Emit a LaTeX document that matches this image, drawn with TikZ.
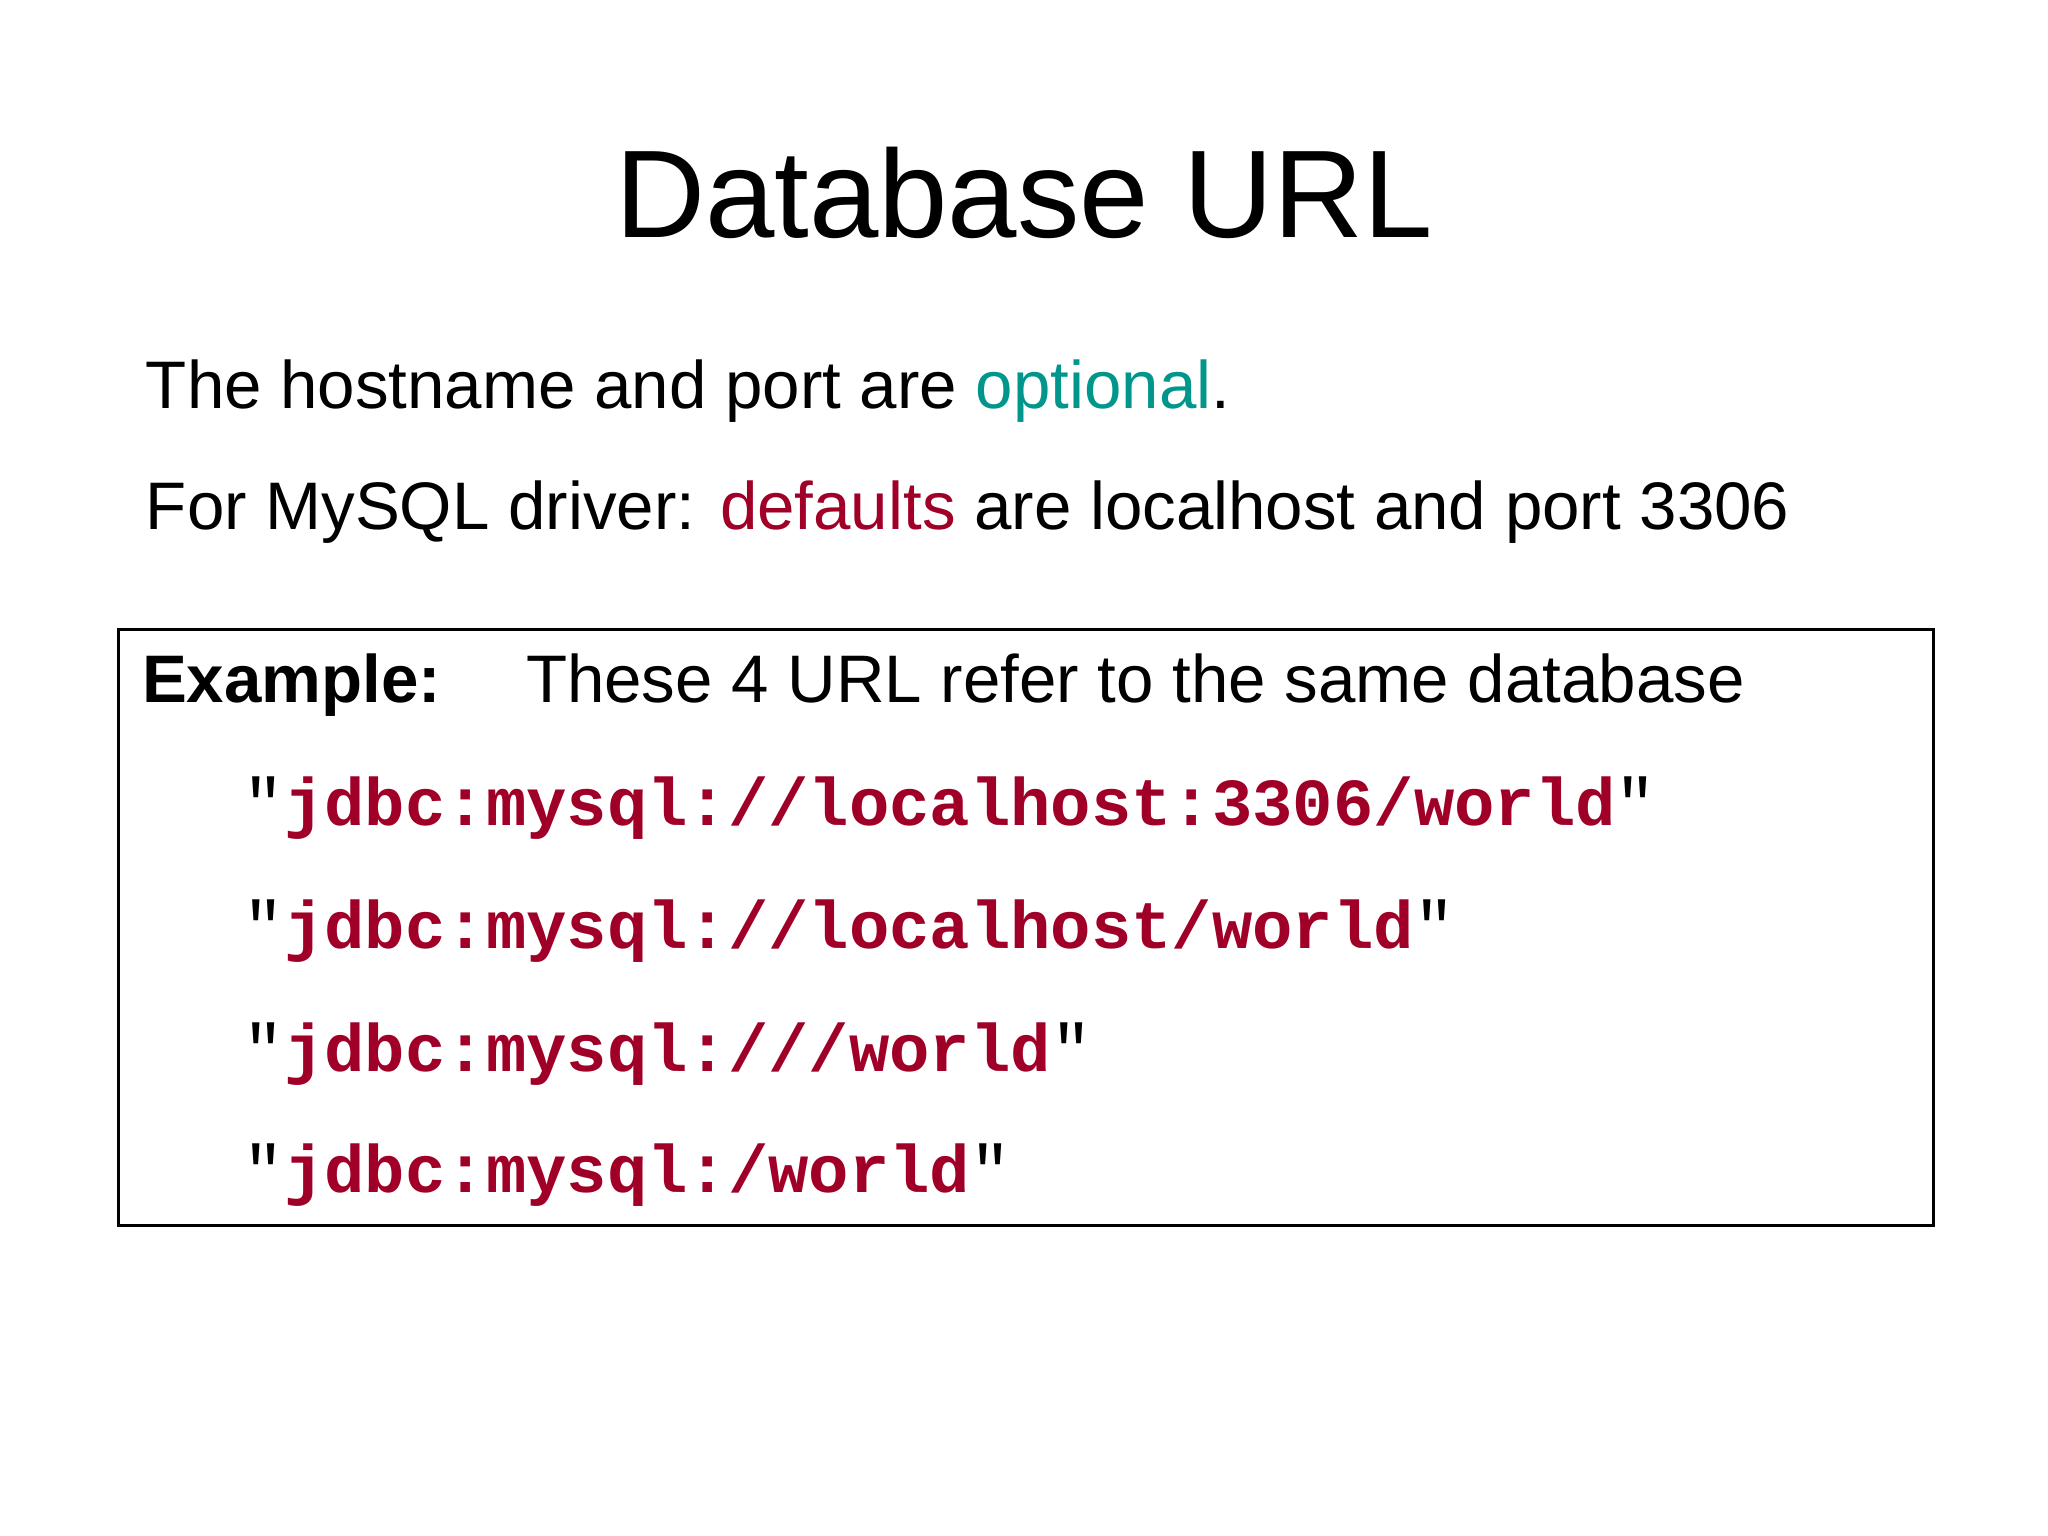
\documentclass[tikz,border=0pt]{standalone}
\usepackage{fontspec}
\setmainfont{Liberation Sans}
\setmonofont{Liberation Mono}
\definecolor{teal1}{RGB}{0,150,140}
\definecolor{red1}{RGB}{160,0,40}
\begin{document}
\begin{tikzpicture}[x=0.99cm,y=-0.99cm,
  body/.style={anchor=base west,inner sep=0pt,font=\fontsize{14.5}{17}\selectfont},
  code/.style={anchor=base west,inner sep=0pt,font=\fontsize{14.5}{17}\selectfont\ttfamily\bfseries}]
\useasboundingbox (0,0) rectangle (15.52/0.99,11.64/0.99);
\node[anchor=base,inner sep=0pt,font=\fontsize{26.9}{32}\selectfont] (title) at (7.84,1.82) {Database URL};
\node[body] (l1) at (1.11,3.13) {The hostname and port are \textcolor{teal1}{optional}.};
\node[body] (l2) at (1.11,4.05) {For MySQL driver: \textcolor{red1}{defaults} are localhost and port 3306};
\draw[line width=0.6pt] (0.91,4.82) rectangle (14.80,9.38);
\node[body] (ex) at (1.08,5.38) {\textbf{Example:}};
\node[body] (ex2) at (4.02,5.38) {These 4 URL refer to the same database};
\node[code] (u1) at (1.86,6.32) {\mdseries"\textcolor{red1}{\bfseries jdbc:mysql://localhost:3306/world}"};
\node[code] (u2) at (1.86,7.26) {\mdseries"\textcolor{red1}{\bfseries jdbc:mysql://localhost/world}"};
\node[code] (u3) at (1.86,8.20) {\mdseries"\textcolor{red1}{\bfseries jdbc:mysql:///world}"};
\node[code] (u4) at (1.86,9.13) {\mdseries"\textcolor{red1}{\bfseries jdbc:mysql:/world}"};
\end{tikzpicture}
\end{document}
